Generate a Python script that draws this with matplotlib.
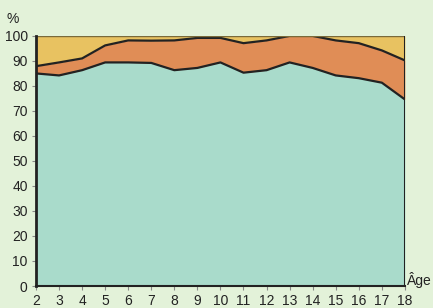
import numpy as np
from matplotlib import pyplot as plt

# ages and stacked shares (%)
ages = list(range(2, 19))
teal_top = [85, 84.2, 86.3, 89.4, 89.4, 89.2, 86.3, 87.2, 89.4, 85.3, 86.3, 89.4, 87.2, 84.2, 83.1, 81.3, 74.6]
orange_top = [87.9, 89.4, 91.0, 96.2, 98.2, 98.1, 98.2, 99.2, 99.2, 97.1, 98.2, 100, 100, 98.2, 97.1, 94.2, 90.2]
total = [100] * len(ages)

bg = '#e3f2d9'
teal = '#a9dbcb'
orange = '#e08d56'
yellow = '#e8c261'
edge = '#222222'

plt.rcParams['font.family'] = ['Liberation Sans', 'DejaVu Sans']

fig = plt.figure(figsize=(4.33, 3.08), dpi=100, facecolor=bg)
ax = fig.add_axes([0.0831, 0.0714, 0.852, 0.812])
ax.set_facecolor(bg)

ax.fill_between(ages, 0, teal_top, color=teal, lw=0)
ax.fill_between(ages, teal_top, orange_top, color=orange, lw=0)
ax.fill_between(ages, orange_top, total, color=yellow, lw=0)
ax.plot(ages, teal_top, color=edge, lw=1.6)
ax.plot(ages, orange_top, color=edge, lw=1.6)
ax.plot(ages, total, color='#7a6a3a', lw=1.0)
ax.plot([18, 18], [0, 100], color=edge, lw=2.2)

ax.set_xlim(2, 18)
ax.set_ylim(0, 100)
ax.set_xticks(ages)
ax.set_yticks(range(0, 101, 10))
ax.tick_params(labelsize=10, colors='#222222', length=3, width=0.8)
ax.tick_params(axis='x', color='#888888', pad=2.5)
ax.tick_params(axis='y', color='#888888', pad=3)
for s in ['top', 'right']:
    ax.spines[s].set_visible(False)
ax.spines['left'].set_linewidth(2)
ax.spines['bottom'].set_linewidth(1.5)
ax.spines['left'].set_color(edge)
ax.spines['bottom'].set_color(edge)

fig.text(0.03, 0.925, '%', fontsize=10, color='#222222', ha='center', va='baseline')
fig.text(0.941, 0.0747, 'Âge', fontsize=10, color='#222222', ha='left', va='baseline')

fig.savefig('out.png', dpi=100, facecolor=bg)
